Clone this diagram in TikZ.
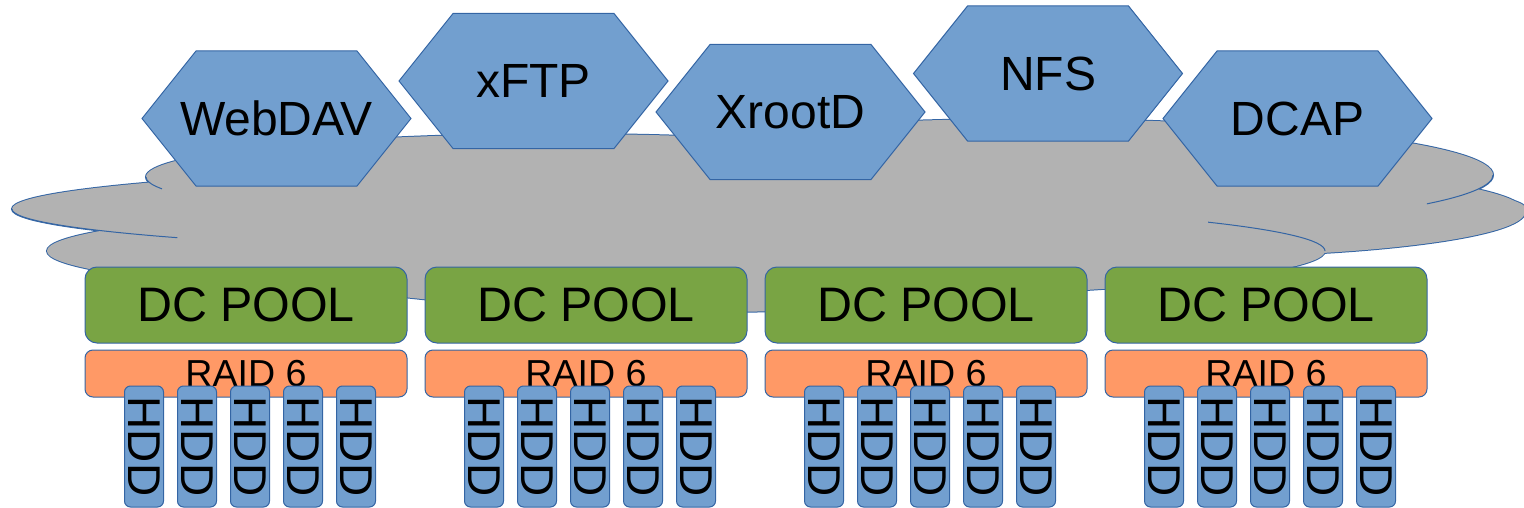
\documentclass[tikz,border=0pt]{standalone}
\usepackage{fontspec}
\setmainfont{Liberation Sans}

\definecolor{hexfill}{HTML}{729FCF}
\definecolor{edgeblue}{HTML}{3465A4}
\definecolor{cloudgray}{HTML}{B2B2B2}
\definecolor{poolgreen}{RGB}{121,164,68}
\definecolor{raidorange}{HTML}{FF9966}

% hexagonal protocol door: name, centre x, centre y, label
\newcommand\hexnode[4]{%
  \filldraw[hexshape] (#2,#3) ++(-134.5,0) -- ++(54,-67.5) -- ++(161,0)
    -- ++(54,67.5) -- ++(-54,67.5) -- ++(-161,0) -- cycle;
  \node[hextext] (#1) at (#2,#3) {#4};}

% the cloud is a union of overlapping ellipses
\newcommand\cloudparts{%
  (769,209) ellipse [x radius=378.5pt, y radius=23pt]
  (686,251) ellipse [x radius=319.5pt, y radius=25pt]
  (560,177) ellipse [x radius=207pt, y radius=21.5pt]
  (1030,175) ellipse [x radius=231.5pt, y radius=28pt]
  (1180,212) ellipse [x radius=172.5pt, y radius=22.5pt]
  (700,228) ellipse [x radius=260pt, y radius=42pt]}

\begin{document}
\begin{tikzpicture}[x=0.5pt, y=-0.5pt,
  cloudline/.style={draw=edgeblue, line width=0.5pt},
  hexshape/.style={fill=hexfill, draw=edgeblue, line width=0.5pt},
  hextext/.style={inner sep=0pt, font=\fontsize{24}{28}\selectfont},
  pool/.style={rectangle, rounded corners=6pt, fill=poolgreen, draw=edgeblue,
    line width=0.5pt, minimum width=161pt, minimum height=38pt, inner sep=0pt,
    font=\fontsize{24.2}{28}\selectfont},
  raid/.style={rectangle, rounded corners=4pt, fill=raidorange, draw=edgeblue,
    line width=0.5pt, minimum width=161pt, minimum height=23.5pt, inner sep=0pt,
    font=\fontsize{18.8}{22}\selectfont},
  hdd/.style={rectangle, rounded corners=3pt, fill=hexfill, draw=edgeblue,
    line width=0.5pt, minimum width=60.5pt, minimum height=19.5pt, inner sep=0pt,
    rotate=-90, font=\fontsize{23}{27}\selectfont}]

\useasboundingbox (0,0) rectangle (1524,508);

% cloud: double-width outline, then the fill leaves only the outer half
\draw[draw=edgeblue, line width=1pt] \cloudparts;
\fill[cloudgray] \cloudparts;
% inner contour pieces that show through
\draw[cloudline] (769,209) ++(180:378.5pt and 23pt)
  arc[start angle=180, end angle=218.6, x radius=378.5pt, y radius=23pt];
\draw[cloudline] (1030,175) ++(-31:231.5pt and 28pt)
  arc[start angle=-31, end angle=0, x radius=231.5pt, y radius=28pt];
\draw[cloudline] (686,251) ++(35.2:319.5pt and 25pt)
  arc[start angle=35.2, end angle=0, x radius=319.5pt, y radius=25pt];
\draw[cloudline] (560,177) ++(180:207pt and 21.5pt)
  arc[start angle=180, end angle=196, x radius=207pt, y radius=21.5pt];

% access protocols
\hexnode{webdav}{276.5}{118.5}{WebDAV}
\hexnode{xftp}{533.5}{81}{xFTP}
\hexnode{xrootd}{790.5}{112}{XrootD}
\hexnode{nfs}{1048}{73.5}{NFS}
\hexnode{dcap}{1297.5}{118.5}{DCAP}

% pools, each on a RAID 6 set of five disks
\foreach \i in {0,...,3}{
  \pgfmathsetmacro{\px}{246+340*\i}
  \node[pool] (pool\i) at (\px,305) {DC POOL};
  \node[raid] (raid\i) at (\px,373.5) {RAID 6};
  \foreach \j/\dx in {1/-102,2/-49,3/4,4/57,5/110}{
    \node[hdd] (hdd\i\j) at (\px+\dx,446.5) {HDD};
  }
}
\end{tikzpicture}
\end{document}
